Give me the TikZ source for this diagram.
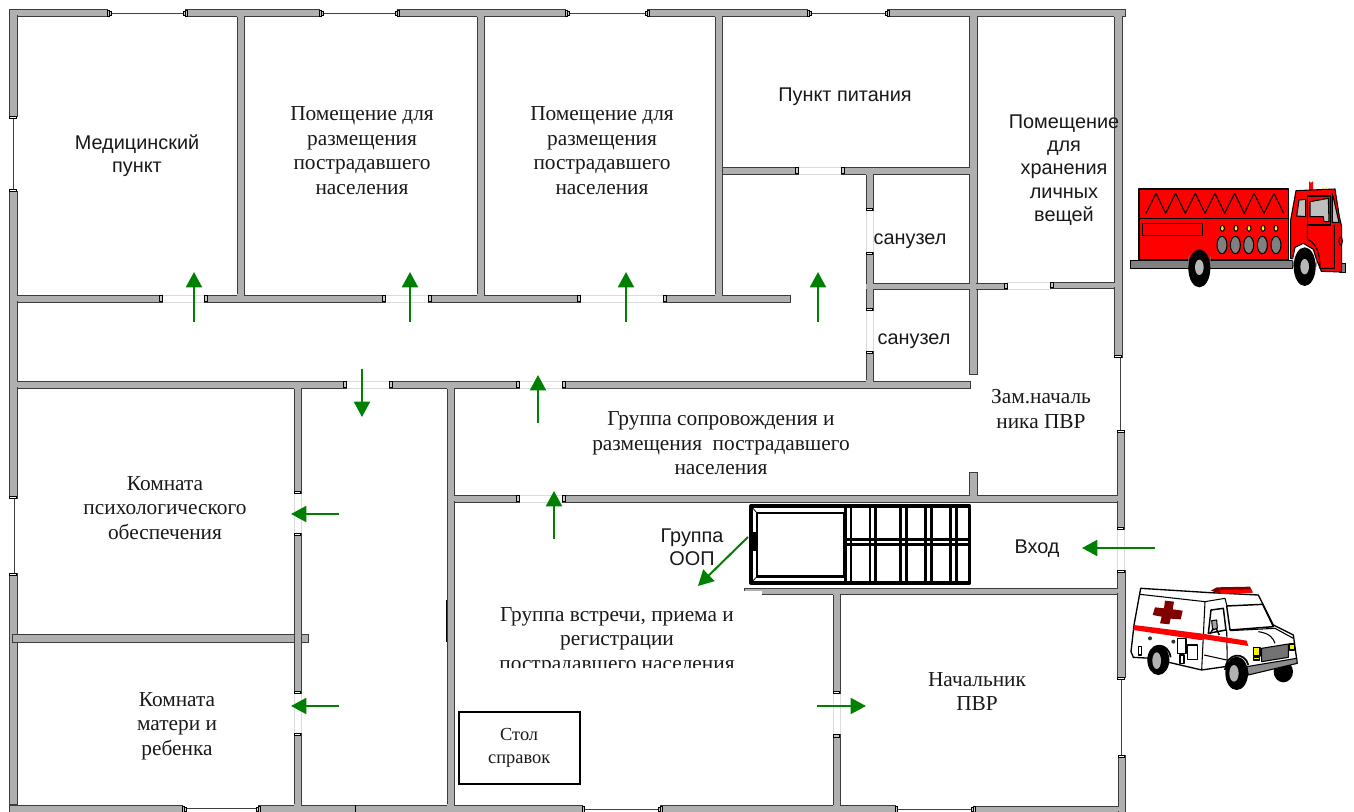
\documentclass[tikz,border=0pt]{standalone}
\usepackage{fontspec}
\setmainfont{Liberation Serif}
\newfontfamily\arialf{Liberation Sans}
\usetikzlibrary{arrows.meta}
\definecolor{wallgray}{HTML}{B0B0B0}
\definecolor{walledge}{HTML}{3C3C3C}
\definecolor{arrowgreen}{HTML}{008000}
\definecolor{darkcross}{HTML}{800000}
\tikzset{
  wall/.style={fill=wallgray,draw=walledge,line width=0.7pt},
  wallcore/.style={fill=wallgray,draw=none},
  gapbox/.style={fill=white,draw=black!14,line width=0.4pt},
  capbox/.style={fill=white,draw=black,line width=0.5pt},
  capgray/.style={fill=wallgray!70,draw=black,line width=0.5pt},
  winline/.style={draw=black!75,line width=0.6pt},
  flow/.style={draw=arrowgreen,line width=1.5pt,-{Triangle[length=11.5pt,width=12pt]}},
  stair/.style={draw=black,line width=2.5pt,line join=round},
  stairbar/.style={draw=black,line width=2pt},
  sans/.style={font=\arialf\fontsize{14.9}{17.4}\selectfont,align=center,inner sep=0pt,text=black!90},
  serif/.style={font=\fontsize{16}{18.4}\selectfont,align=center,inner sep=0pt,text=black!90},
  small serif/.style={font=\fontsize{13.8}{17.2}\selectfont,align=center,inner sep=0pt,text=black!90},
  ol/.style={draw=black,line width=0.8pt,line join=round},
}
\begin{document}
\begin{tikzpicture}[x=0.75pt,y=-0.75pt]
\useasboundingbox (0,0) rectangle (1354,812);
\fill[white] (0,0) rectangle (1354,812);

% door gaps
\foreach \a/\b/\c/\d in {162/295/204/302,385/295/428/302,580/295/664/302,
  346/381/389/388,519/381/562/388,519/495/562/502,798/167/841/174,1007/282/1050/289,
  866/210/873/252,866/310/873/351,294/493/301/533,294/693/301/733,833/693/840/734,1117/529/1124/570}
  \draw[gapbox] (\a,\b) rectangle (\c,\d);

% window lines
\foreach \a/\b/\c/\d in {107/13/185/13,319/13/397/13,565/13/647/13,807/13/887/13,
  13/116/13/191,14/498/14/573,182/808/258/808,582/809/660/809,895/809/973/809,
  1120/357/1120/430,1121/677/1121/755}
  \draw[winline] (\a,\b) -- (\c,\d);

% main walls: outlines first, then merged fill
\newcommand{\walllist}{9.5/9.5/107/16,185/9.5/319/16,397/9.5/565/16,647/9.5/807/16,887/9.5/1125/16,
  9.5/9.5/17/116,9.5/191/17/498,9.5/573/17/804,
  9.5/805/182/812,258/805/582/812,660/805/895/812,973/806/1125/812,
  237/16/244/295,477/16/484/295,715/16/722/295,969.5/16/977/374,969.5/472/977/495,
  17/295/162/302,204/295/385/302,428/295/580/302,663/295/790/302,
  722/167/798/174,841/167/970/174,
  866/174/873/210,866/252/873/310,866/351/873/381,
  873/283/1007/289,1050/282/1115/288,
  17/381/346/388,389/381/519/388,562/381/970/388,
  294/388/301/493,294/533/301/693,294/733/301/805,
  447/388/454/805,454/495/519/502,562/495/1117/502,
  744/588/1117/594,833/594/840/693,833/734/840/806,
  1114/16/1122/357,1117/430/1124/529,1117/570/1125/677,1118/755/1125/812}
\foreach \a/\b/\c/\d in \walllist \draw[wall] (\a,\b) rectangle (\c,\d);
\foreach \a/\b/\c/\d in \walllist \fill[wallcore] (\a+0.6,\b+0.6) rectangle (\c-0.6,\d-0.6);
\foreach \a/\b/\c/\d in {9.5/10/17/16,237/15/244/17,477/15/484/17,715/15/722/17,969.5/15/977/17,
  1114/15/1122/17,237/294/244/296,477/294/484/296,715/294/722/296,
  866/173/873/175,969/167.6/971/173.4,969/283.6/978/288.4,866/284/874/288.6,
  866/380/873/382,10/295.6/18/301.4,10/381.6/18/387.4,
  969.5/494/977/496,447/387/454/389,453/495.6/455/501.4,833/593/840/595,833/805/840/807,
  294/804/301/806,447/804/454/806,1114/282.6/1116/287.4,294/387/301/389,1116/495.6/1118/501.4,1116/588.6/1118/593.4}
  \fill[wallcore] (\a,\b) rectangle (\c,\d);
\draw[draw=black,line width=0.8pt] (446.5,600) -- (446.5,642);

% partition between the two left rooms, over the outer wall and under the inner one
\draw[wall] (12,634) rectangle (308,642);
\draw[wall] (294,533) rectangle (301,693);

% white patches from the original
\fill[white] (744,591.4) rectangle (762,596);

% door-end caps (vertical)
\foreach \a/\b/\c/\d in {162/295.4/159/301.6,204/295.4/207/301.6,385/295.4/382/301.6,428/295.4/431/301.6,
  580/295.4/577/301.6,663/295.4/666/301.6,346/381.4/343/387.6,389/381.4/392/387.6,
  519/381.4/516/387.6,562/381.4/565/387.6,519/495.4/516/501.6,562/495.4/565/501.6,
  798/167.4/795/173.6,841/167.4/844/173.6,1007/283.4/1004/288.6,1050/282.4/1053/287.6}
  \draw[capgray] (\a,\b) rectangle (\c,\d);
\foreach \a/\b/\c/\d in {294.4/491/300.6/493,294.4/533/300.6/535,294.4/691/300.6/693,294.4/733/300.6/735,
  866.4/208/872.6/210,866.4/252/872.6/254,866.4/308/872.6/310,866.4/351/872.6/353,
  833.4/691/839.6/693,1117.4/527/1123.6/529,1117.4/570/1124.6/572,
  9.8/116/16.8/118,9.8/189/16.8/191,9.8/496/16.8/498,9.8/573/16.8/575,
  1114.5/355/1121.5/357,1117/430/1124/432,1117.5/677/1124.5/679,1118.5/755/1124.5/757}
  \draw[capbox] (\a,\b) rectangle (\c,\d);
\foreach \a/\b/\c/\d in {833.4/734/839.6/737}
  \draw[capgray] (\a,\b) rectangle (\c,\d);
% window-end caps (horizontal)
\foreach \a/\b/\c/\d in {107/10/109/16,109/11/111/15,183/11/185/15,185/10/187/16,
  319/10/321/16,321/11/323/15,395/11/397/15,397/10/399/16,
  565/10/567/16,567/11/569/15,645/11/647/15,647/10/649/16,
  807/10/809/16,809/11/811/15,885/11/887/15,887/10/889/16,
  182/806/184/812,184/807/186/811,256/807/258/811,258/806/260/812,
  582/806/584/812,658/807/660/811,660/806/662/812,
  895/806/897/812,971/807/973/811,973/806/975/812}
  \draw[capgray] (\a,\b) rectangle (\c,\d);
\draw[line width=0.5pt] (355,805) -- (355,812);

% stair block
\draw[stair] (751,506) rectangle (969.5,583);
\draw[stairbar] (757,513) rectangle (844,576.5);
\draw[draw=black,line width=0.6pt] (751,506) -- (757,513) (751,583) -- (757,576.5);
\fill[black] (749,532) rectangle (758,551);
\foreach \x in {845.5,851,870,875.5,900.5,906.5,925.5,931.5,950.5,956.5}
  \draw[stairbar] (\x,506) -- (\x,583);
\draw[stairbar] (844,539.5) -- (970,539.5) (844,544.5) -- (970,544.5);

% info desk
\node[draw=black,line width=1.5pt,minimum width=91pt,minimum height=54pt,inner sep=0pt,anchor=north west] (desk) at (457.5,711) {};

% fire truck
\begin{scope}[shift={(1100,160)},x=0.25pt,y=-0.25pt]
  \fill[red] (627,90) -- (627,62) arc[start angle=180,end angle=0,radius=6] -- (639,90) -- cycle;
  \fill[yellow] (666,88) -- (666,80) arc[start angle=180,end angle=0,radius=7] -- (680,88) -- cycle;
  \draw[ol,fill=red] (117,87) rectangle (566,300);
  \draw[ol] (117,175) -- (566,175);
  \draw[ol] (138,160) -- (168,100) -- (197,160) -- (227,100) -- (256,160) -- (286,100) -- (315,160) -- (345,100) -- (374,160) -- (404,100) -- (433,160) -- (462,100) -- (492,160) -- (522,100) -- (551,160);
  \draw[ol] (127,190) rectangle (307,226);
  \foreach \x in {367,408,447,489,528} \draw[ol,fill=yellow] (\x,205) ellipse[x radius=6,y radius=9];
  \foreach \x in {366,406,446,487,528} \draw[ol,fill=gray] (\x,255) ellipse[x radius=15,y radius=26];
  \draw[ol,fill=gray] (91,302) rectangle (578,325);
  \draw[ol,fill=gray] (720,310) rectangle (737,338);
  \draw[ol,fill=red] (572,296) -- (572,180) -- (588,92) -- (705,87) -- (718,170) -- (725,200) -- (725,336) -- (664,334) -- (650,300) -- (640,268) -- (610,250) -- (585,262) -- (578,296) -- cycle;
  \draw[ol,fill=black!25] (590,168) -- (597,120) -- (617,118) -- (617,170) -- cycle;
  \draw[ol,line width=1.1pt] (622,108) rectangle (692,195);
  \draw[ol,fill=black!25] (630,125) -- (685,115) -- (687,185) -- (672,185) -- (670,170) -- (630,170) -- cycle;
  \draw[ol] (622,195) -- (622,238) .. controls (650,250) and (660,280) .. (660,325) -- (703,325) -- (703,195);
  \draw[ol,fill=black!25] (697,100) -- (717,187) -- (697,187) -- cycle;
  \draw[ol,fill=red] (722,243) ellipse[x radius=5,y radius=12];
  \fill[gray] (265,320) -- (265,285) arc[start angle=180,end angle=0,x radius=33.5,y radius=38] -- (332,320) -- cycle;
  \fill[gray] (578,320) -- (578,290) arc[start angle=180,end angle=0,x radius=36,y radius=42] -- (650,320) -- cycle;
  \fill[black] (298,325) ellipse[x radius=33,y radius=57];
  \fill[black!28] (298,322) ellipse[x radius=13,y radius=23];
  \fill[black] (614,320) ellipse[x radius=33,y radius=58];
  \fill[black!28] (614,320) ellipse[x radius=13,y radius=23];
\end{scope}

% ambulance
\begin{scope}[shift={(1110,570)},x=0.25pt,y=-0.25pt]
  \fill[black] (520,305) ellipse[x radius=29,y radius=32];
  \draw[ol,fill=white,line width=1pt] (92,55) -- (300,68) -- (445,75) -- (490,165) -- (550,195) -- (560,268) -- (410,295) -- (345,290) -- (275,300) -- (125,265) -- (70,262) -- (63,245) -- (72,165) -- cycle;
  \draw[ol] (90,73) -- (285,95) -- (275,300);
  \draw[ol] (285,95) -- (345,85) -- (350,105);
  \draw[ol,line width=1.1pt] (303,120) -- (340,115) -- (348,180) -- (295,190) -- cycle;
  \draw[ol,line width=1.1pt] (350,108) -- (458,103) -- (490,170) -- (360,180) -- cycle;
  \draw[ol] (360,182) -- (495,175) -- (550,205);
  \draw[ol] (445,185) .. controls (480,190) and (490,205) .. (495,220);
  \draw[ol] (350,180) -- (352,290);
  \draw[ol] (282,255) -- (350,270);
  \fill[darkcross] (303,62) -- (320,52) -- (420,50) -- (428,68) -- (330,72) -- cycle;
  \fill[red] (330,60) -- (425,58) -- (428,68) -- (332,72) -- cycle;
  \fill[darkcross] (165,92) -- (192,95) -- (188,118) -- (218,122) -- (212,148) -- (182,146) -- (178,163) -- (150,160) -- (155,140) -- (128,135) -- (135,112) -- (162,115) -- cycle;
  \fill[red] (72,165) -- (270,190) -- (410,212) -- (415,228) -- (285,208) -- (270,210) -- (70,180) -- cycle;
  \draw[ol,fill=black!35] (305,152) -- (320,150) -- (322,175) -- (308,180) -- cycle;
  \draw[ol,line width=1.1pt] (310,175) -- (300,192) (318,175) -- (328,195);
  \draw[ol,fill=white] (85,230) rectangle (95,255);
  \draw[ol,fill=white] (203,205) rectangle (228,250);
  \draw[ol,fill=white] (233,225) rectangle (263,268);
  \draw[ol,fill=white] (210,255) rectangle (222,280);
  \fill[black!80] (120,205) circle[radius=6];
  \fill[black!80] (190,215) circle[radius=6];
  \draw[ol,fill=yellow,line width=1.1pt] (430,232) rectangle (450,258);
  \draw[ol,fill=yellow] (430,262) rectangle (448,270);
  \draw[ol,fill=yellow,line width=1.1pt] (538,222) rectangle (553,240);
  \draw[ol,fill=black!55] (455,235) -- (535,222) -- (535,262) -- (455,275) -- cycle;
  \draw[ol,fill=black!45] (410,290) -- (560,265) -- (562,280) -- (415,315) -- cycle;
  \draw[draw=black,line width=1.3pt] (120,265) .. controls (120,215) and (175,215) .. (182,262);
  \draw[draw=black,line width=1.3pt] (345,300) .. controls (350,245) and (405,245) .. (415,285);
  \fill[black] (145,270) ellipse[x radius=33,y radius=45];
  \fill[black!30] (140,272) ellipse[x radius=13,y radius=25];
  \fill[black] (380,310) ellipse[x radius=34,y radius=50];
  \fill[black!30] (372,310) ellipse[x radius=14,y radius=25];
\end{scope}

% green arrows
\draw[flow] (194,322) -- (194,272);
\draw[flow] (410,322) -- (410,272);
\draw[flow] (626,322) -- (626,272);
\draw[flow] (818,322) -- (818,272);
\draw[flow] (362,369) -- (362,417);
\draw[flow] (538,423) -- (538,375);
\draw[flow] (554,539) -- (554,491);
\draw[flow] (339,514) -- (291,514);
\draw[flow] (339,706) -- (291,706);
\draw[flow] (817,706) -- (866,706);
\draw[flow] (1155,548) -- (1082,548);
\draw[flow] (748,537) -- (698,586);

% labels
\node[sans] (med) at (137,155.5) {Медицинский\\пункт};
\node[serif] (room1) at (362,150.5) {Помещение для\\размещения\\пострадавшего\\населения};
\node[serif] (room2) at (602,150.5) {Помещение для\\размещения\\пострадавшего\\населения};
\node[sans] (food) at (845,97) {Пункт питания};
\node[sans] (store) at (1064,170) {Помещение\\для\\хранения\\личных\\вещей};
\node[sans] (wc1) at (910,241) {санузел};
\node[sans] (wc2) at (914,341) {санузел};
\node[serif] (dep) at (1041,409) {Зам.началь\\ника ПВР};
\node[serif] (escort) at (721,443.5) {Группа сопровождения и\\размещения\ \ пострадавшего\\населения};
\node[serif] (psy) at (165,508) {Комната\\психологического\\обеспечения};
\node[serif] (mother) at (177,726) {Комната\\матери и\\ребенка};
\node[sans] (oop) at (692,547.5) {Группа\\ООП};
\node[sans] (entry) at (1037,549) {Вход};
\node[serif] (reg) at (617,641) {Группа встречи, приема и\\регистрации\\пострадавшего населения};
\fill[white] (490,668.5) rectangle (750,680);
\node[serif] (chief) at (977,691.5) {Начальник\\ПВР};
\node[small serif] at (desk.center) (desktext) {Стол\\справок};
\end{tikzpicture}
\end{document}
